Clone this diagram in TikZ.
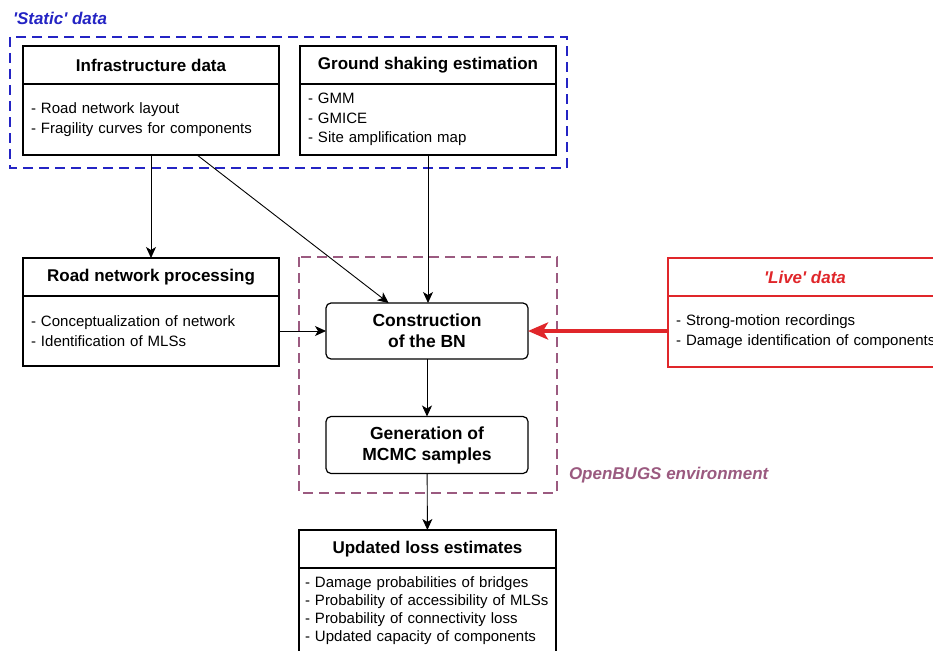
\documentclass[tikz,border=0pt]{standalone}
\usepackage{fontspec}
\setmainfont{Liberation Sans}
\usetikzlibrary{arrows.meta,calc,positioning}
\definecolor{staticblue}{HTML}{2424C4}
\definecolor{bugs}{HTML}{9B5A80}
\definecolor{live}{HTML}{E0262A}
\hyphenpenalty=10000

\begin{document}
\begin{tikzpicture}[x=1pt,y=-1pt,
		%Option for nice arrows%
		>={Stealth[length=11pt,width=10pt,inset=3pt]},%
		inner sep=0pt,%
		outer sep=0pt,%
		head/.style={draw,line width=1.2pt,minimum width=256pt,minimum height=38pt,
			font=\fontsize{17}{20}\selectfont\bfseries},%
		body/.style={draw,line width=1.2pt,minimum width=256pt,text width=240pt,inner xsep=8pt,
			align=left,font=\fontsize{15}{19.5}\selectfont},%
		stage/.style={draw,line width=1.2pt,rounded corners=5pt,minimum width=202pt,
			minimum height=56pt,align=center,font=\fontsize{17.5}{21}\selectfont\bfseries},%
		frame/.style={line width=2pt,dash pattern=on 10pt off 6pt},%
		label/.style={anchor=west,font=\fontsize{17}{20}\selectfont\bfseries\itshape},%
		link/.style={->,line width=0.9pt}%
		]
		%% page size
		\useasboundingbox (0,0) rectangle (933,650);
		\fill[white] (0,0) rectangle (933,650);
		\clip (0,0) rectangle (933,650);
		%
		%% static data
		\node[head] (infra) at (151,65) {Infrastructure data};
		\node[body,minimum height=71pt,below=0pt of infra] (infrab)
			{- Road network layout\\- Fragility curves for components};
		\node[head] (ground) at (428,65) {Ground shaking estimation};
		\node[body,minimum height=71pt,below=0pt of ground] (groundb)
			{- GMM\\- GMICE\\- Site amplification map};
		\draw[frame,staticblue] (10,37) rectangle (567,168);
		\node[label,text=staticblue] (staticlbl) at (13,18) {\textquotesingle Static\textquotesingle{} data};
		%
		%% road network
		\node[head] (road) at (151,277) {Road network processing};
		\node[body,minimum height=70pt,below=0pt of road] (roadb)
			{- Conceptualization of network\\- Identification of MLSs};
		%
		%% OpenBUGS
		\node[stage] (bn) at (427,331) {Construction\\of the BN};
		\node[stage,minimum height=57pt] (mcmc) at (427,445) {Generation of\\MCMC samples};
		\draw[frame,bugs] (299,257) rectangle (557,493);
		\node[label,text=bugs] (bugslbl) at (569,475) {OpenBUGS environment};
		%
		%% live data
		\node[head,draw=live,text=live,minimum width=274pt,font=\fontsize{17}{20}\selectfont\bfseries\itshape]
			(live) at (805,277) {\textquotesingle Live\textquotesingle{} data};
		\node[body,draw=live,text width=290pt,inner xsep=8pt,minimum height=71pt,
			below=0pt of live.south west,anchor=north west] (liveb)
			{- Strong-motion recordings\\- Damage identification of components};
		%
		%% results
		\node[head,minimum width=257pt] (upd) at (427.5,549) {Updated loss estimates};
		\node[body,minimum width=257pt,text width=245pt,inner xsep=6pt,minimum height=86pt,
			font=\fontsize{15}{18}\selectfont,below=0pt of upd] (updb)
			{- Damage probabilities of bridges\\- Probability of accessibility of MLSs\\- Probability of connectivity loss\\- Updated capacity of components};
		%
		%% connectors
		\draw[link] (infrab.south) -- (road.north);
		\draw[link] ($(infrab.south west)!0.68!(infrab.south east)$) -- ($(bn.north west)!0.31!(bn.north east)$);
		\draw[link] (groundb.south) -- (groundb.south |- bn.north);
		\draw[link] (roadb.east |- bn.west) -- (bn.west);
		\draw[link] (bn) -- (mcmc);
		\draw[link] (mcmc) -- (upd);
		\draw[live,line width=4pt,-{Stealth[length=20pt,width=17pt,inset=5pt]}] (liveb.west |- bn.east) -- (bn.east);
	\end{tikzpicture}
\end{document}
